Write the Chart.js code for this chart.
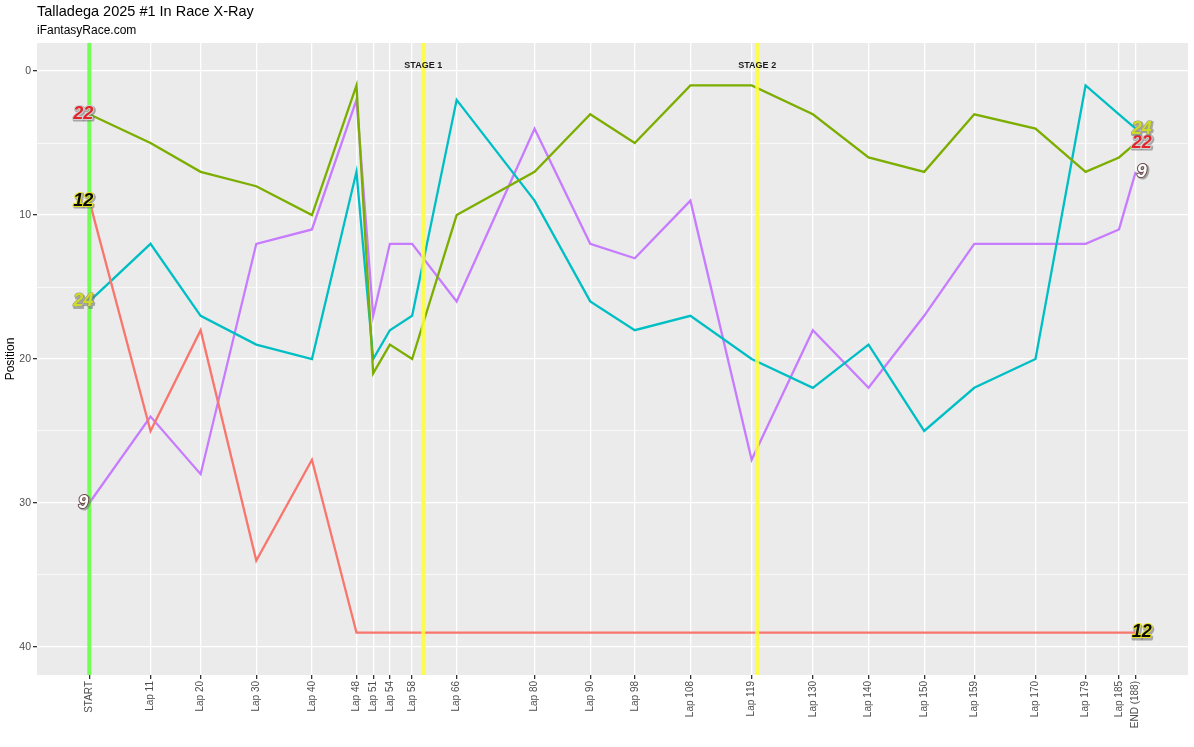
<!DOCTYPE html>
<html><head><meta charset="utf-8">
<script src="https://cdn.jsdelivr.net/npm/chart.js@4"></script>
<style>html,body{margin:0;padding:0;background:#fff}#c{display:block}</style>
</head><body>
<div style="width:1194px;height:747px"><canvas id="c" width="1194" height="747"></canvas></div>
<script>
const laps = [0,11,20,30,40,48,51,54,58,66,80,90,98,108,119,130,140,150,159,170,179,185,188];
const tickLabels = ["START","Lap 11","Lap 20","Lap 30","Lap 40","Lap 48","Lap 51","Lap 54","Lap 58","Lap 66","Lap 80","Lap 90","Lap 98","Lap 108","Lap 119","Lap 130","Lap 140","Lap 150","Lap 159","Lap 170","Lap 179","Lap 185","END (188)"];
const car12 = [9,25,18,34,27,39,39,39,39,39,39,39,39,39,39,39,39,39,39,39,39,39,39];
const car22 = [3,5,7,8,10,1,21,19,20,10,7,3,5,1,1,3,6,7,3,4,7,6,5];
const car24 = [16,12,17,19,20,7,20,18,17,2,9,16,18,17,20,22,19,25,22,20,1,3,4];
const car9  = [30,24,28,12,11,2,17,12,12,16,4,12,13,9,27,18,22,17,12,12,12,11,7];
const carNames = ["12","22","24","9"];
const carColors = ["#F8766D","#7CAE00","#00BFC4","#C77CFF"];
const stageLaps = [60,120];
const stageNames = ["STAGE 1","STAGE 2"];
const yTicks = [0,5,10,15,20,25,30,35,40];

const series = [car12,car22,car24,car9];
const datasets = series.map((s,i)=>({
  label: carNames[i],
  data: laps.map((l,j)=>({x:l,y:s[j]})),
  borderColor: carColors[i],
  borderWidth: 2.3,
  pointRadius: 0,
  tension: 0,
  fill: false
}));

const labelStyles = {
  "22": {fill:"#e3242b", stroke:"#d0d0d0", sw:2},
  "12": {fill:"#0a0a0a", stroke:"#e6e21e", sw:2},
  "24": {fill:"#cddc2a", stroke:"#9a9a7a", sw:1.2},
  "9":  {fill:"#ffffff", stroke:"#6a4a4a", sw:2}
};

function drawCarLabel(ctx, txt, x, y){
  const st = labelStyles[txt];
  ctx.save();
  ctx.font = "italic bold 18px 'Liberation Sans', Arial, sans-serif";
  ctx.textAlign = "center";
  ctx.textBaseline = "middle";
  ctx.lineJoin = "round";
  ctx.strokeStyle = "rgba(110,110,110,0.55)";
  ctx.lineWidth = st.sw + 1;
  ctx.strokeText(txt, x+1.2, y+1.2);
  ctx.strokeStyle = st.stroke;
  ctx.lineWidth = st.sw;
  ctx.strokeText(txt, x, y);
  ctx.fillStyle = st.fill;
  ctx.fillText(txt, x, y);
  ctx.restore();
}

const plugin = {
  id: 'custom',
  beforeDraw(chart){
    const {ctx, chartArea:a} = chart;
    ctx.save();
    ctx.fillStyle = "#fff";
    ctx.fillRect(0,0,chart.width,chart.height);
    ctx.fillStyle = "#EBEBEB";
    ctx.fillRect(a.left,a.top,a.right-a.left,a.bottom-a.top);
    ctx.restore();
  },
  afterDatasetsDraw(chart){
    const {ctx, chartArea:a, scales:{x,y}} = chart;
    ctx.save();
    ctx.beginPath(); ctx.rect(a.left,a.top,a.right-a.left,a.bottom-a.top); ctx.clip();
    // start and stage lines
    ctx.globalAlpha = 0.85;
    ctx.strokeStyle = "#5cff3c";
    ctx.lineWidth = 4;
    let px = x.getPixelForValue(laps[0]);
    ctx.beginPath(); ctx.moveTo(px,a.top); ctx.lineTo(px,a.bottom); ctx.stroke();
    ctx.strokeStyle = "#ffff33";
    stageLaps.forEach(l=>{
      const p = x.getPixelForValue(l);
      ctx.beginPath(); ctx.moveTo(p,a.top); ctx.lineTo(p,a.bottom); ctx.stroke();
    });
    ctx.globalAlpha = 1;
    // car labels
    series.forEach((s,i)=>{
      drawCarLabel(ctx, carNames[i], x.getPixelForValue(laps[0])-6, y.getPixelForValue(s[0]));
      drawCarLabel(ctx, carNames[i], x.getPixelForValue(laps[laps.length-1])+6, y.getPixelForValue(s[s.length-1]));
    });
    ctx.fillStyle = "#1a1a1a";
    ctx.font = "bold 9px 'Liberation Sans', Arial, sans-serif";
    ctx.textAlign = "center"; ctx.textBaseline = "middle";
    stageLaps.forEach((l,i)=>{
      ctx.fillText(stageNames[i], x.getPixelForValue(l), y.getPixelForValue(-0.4));
    });
    ctx.restore();
    // titles
    ctx.save();
    ctx.fillStyle = "#000";
    ctx.textBaseline = "middle"; ctx.textAlign = "left";
    ctx.font = "14.5px 'Liberation Sans', Arial, sans-serif";
    ctx.fillText("Talladega 2025 #1 In Race X-Ray", 37, 12);
    ctx.font = "12px 'Liberation Sans', Arial, sans-serif";
    ctx.fillText("iFantasyRace.com", 37, 31);
    ctx.translate(11, (a.top+a.bottom)/2);
    ctx.rotate(-Math.PI/2);
    ctx.textAlign = "center";
    ctx.font = "12px 'Liberation Sans', Arial, sans-serif";
    ctx.fillText("Position", 0, 0);
    ctx.restore();
  }
};

new Chart(document.getElementById('c'), {
  type: 'line',
  data: { datasets },
  options: {
    responsive: false,
    animation: false,
    layout: { padding: { top: 43, right: 6, left: 0, bottom: 0 } },
    plugins: { legend: {display:false}, tooltip: {enabled:false}, title:{display:false} },
    scales: {
      x: {
        type: 'linear',
        min: -9.4, max: 197.4,
        afterBuildTicks(scale){ scale.ticks = laps.map(v=>({value:v})); },
        afterFit(scale){ scale.height = 72; },
        ticks: {
          autoSkip: false, maxRotation: 90, minRotation: 90,
          color: "#4d4d4d", padding: 2,
          font: { size: 10, family: "'Liberation Sans', Arial, sans-serif" },
          callback(v){ const i = laps.indexOf(v); return i>=0 ? tickLabels[i] : ''; }
        },
        grid: { color: "#ffffff", lineWidth: 1.3, tickLength: 4, tickColor: "#333333", drawTicks: true },
        border: { display: false }
      },
      y: {
        type: 'linear', reverse: true,
        min: -1.95, max: 41.95,
        afterBuildTicks(scale){ scale.ticks = yTicks.map(v=>({value:v})); },
        afterFit(scale){ scale.width = 37; },
        ticks: {
          color: "#4d4d4d", padding: 2,
          font: { size: 10.5, family: "'Liberation Sans', Arial, sans-serif" },
          callback(v){ return v % 10 === 0 ? String(v) : ''; }
        },
        grid: {
          color: "#ffffff",
          lineWidth: (c)=> (c.tick && c.tick.value % 10 === 0) ? 1.3 : 0.7,
          tickLength: 4,
          tickColor: (c)=> (c.tick && c.tick.value % 10 === 0) ? "#333333" : "rgba(0,0,0,0)"
        },
        border: { display: false }
      }
    }
  },
  plugins: [plugin]
});
</script>
</body></html>
